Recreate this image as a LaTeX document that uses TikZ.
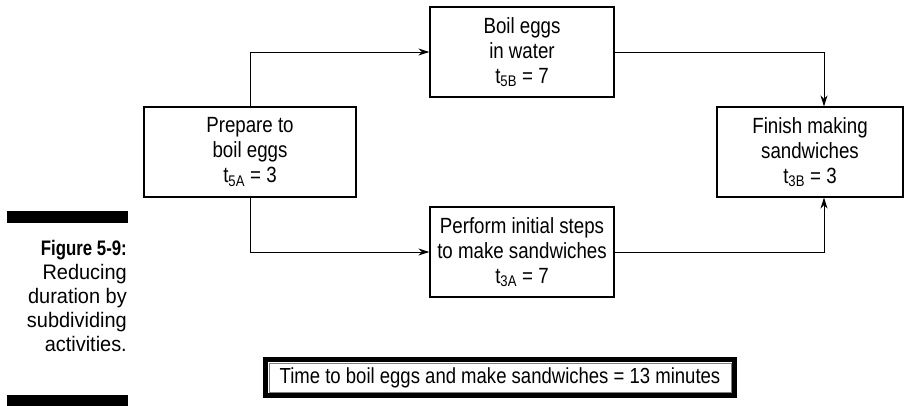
\documentclass[tikz,border=0pt]{standalone}
\usepackage{fontspec}
\setmainfont[FakeStretch=0.85]{Liberation Sans}
\newfontfamily\capfont[FakeStretch=0.95]{Liberation Sans}
\newfontfamily\figfont[FakeStretch=0.8]{Liberation Sans}
\usetikzlibrary{arrows.meta}

\tikzset{
    activity/.style={draw, line width=1.2pt, minimum height=90pt,
        align=center, inner sep=0pt, font=\fontsize{22}{25}\selectfont},
    flow/.style={line width=1pt, -{Stealth[length=11pt,width=7pt]}}
}

\begin{document}
\begin{tikzpicture}[x=1pt, y=-1pt]
            \useasboundingbox (0,0) rectangle (921,405);
            \node[activity, minimum width=212pt] (prep) at (250,152) {Prepare to\\boil eggs\\t\textsubscript{5A} = 3};
            \node[activity, minimum width=184pt] (boil) at (522,52) {Boil eggs\\in water\\t\textsubscript{5B} = 7};
            \node[activity, minimum width=184pt] (perf) at (522,252) {Perform initial steps\\to make sandwiches\\t\textsubscript{3A} = 7};
            \node[activity, minimum width=186pt] (fin) at (810,152) {Finish making\\sandwiches\\t\textsubscript{3B} = 3};
            \draw[flow] (prep.north) |- (boil.west);
            \draw[flow] (prep.south) |- (perf.west);
            \draw[flow] (boil.east) -| ([xshift=14pt]fin.north);
            \draw[flow] (perf.east) -| ([xshift=14pt]fin.south);
            \node[draw, line width=5pt, minimum width=469pt, minimum height=36pt,
                font=\fontsize{21.8}{24}\selectfont] (total) at (500,377.5)
                {Time to boil eggs and make sandwiches = 13 minutes};
            \draw[gray, line width=1pt] ([xshift=6pt,yshift=-6pt]total.north west) rectangle ([xshift=-6pt,yshift=6pt]total.south east);
            \filldraw (7,211) rectangle (127,222);
            \filldraw (7,395) rectangle (127,405);
            \node[anchor=north east, align=right, inner sep=0pt, font=\capfont\fontsize{21}{24}\selectfont] (caption) at (127,240)
                {{\figfont\bfseries Figure 5-9:}\\Reducing\\duration by\\subdividing\\activities.};
        \end{tikzpicture}
\end{document}
